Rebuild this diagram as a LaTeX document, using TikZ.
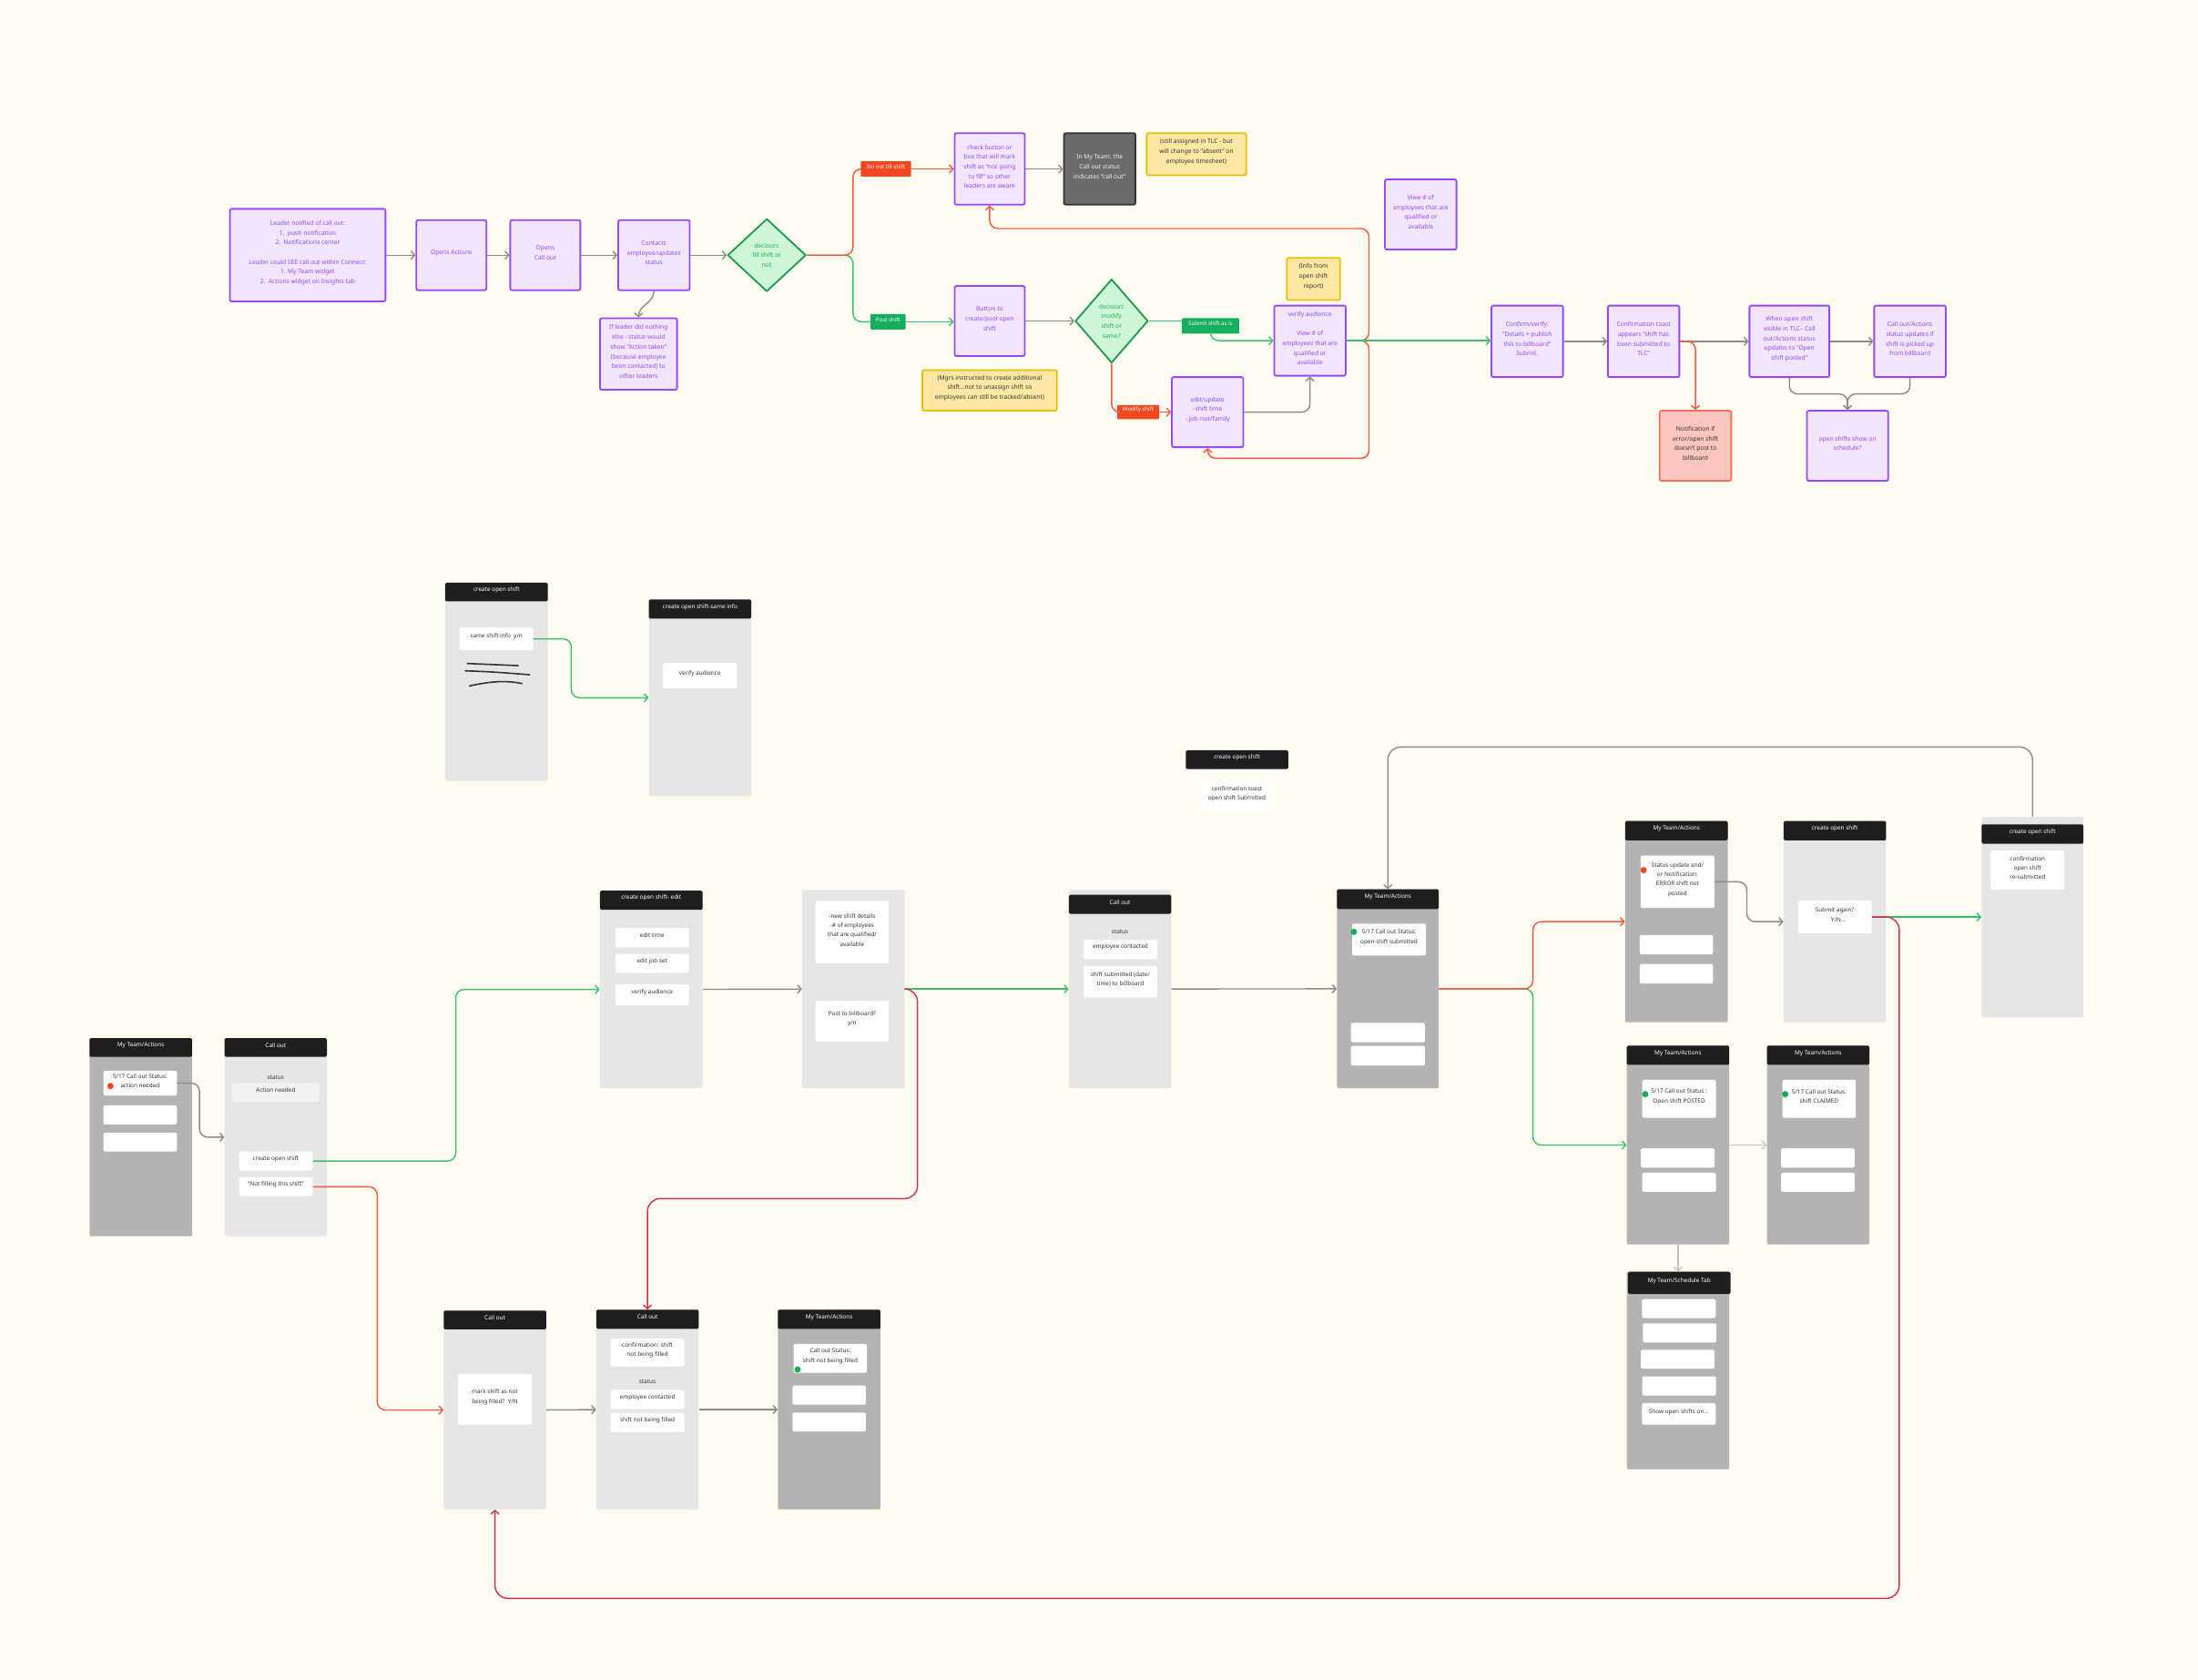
\documentclass[tikz,border=0pt]{standalone}
\usepackage{fontspec}
\setmainfont{Noto Sans}
\usepackage{tikz}
\usetikzlibrary{shapes.geometric,arrows.meta,fit}
\definecolor{BgCream}{HTML}{FFFDF1}
\definecolor{FlowPurple}{HTML}{9747FF}
\definecolor{FlowLilac}{HTML}{F1E5FF}
\definecolor{DecGreen}{HTML}{1B9A4B}
\definecolor{DecMint}{HTML}{CFF7D7}
\definecolor{TagGreen}{HTML}{14AE5C}
\definecolor{TagRed}{HTML}{F24822}
\definecolor{NoteYellow}{HTML}{FFE8A3}
\definecolor{NoteEdge}{HTML}{E8BE0A}
\definecolor{DarkBox}{HTML}{6B6B6B}
\definecolor{ErrFill}{HTML}{FCC6BE}
\definecolor{ErrEdge}{HTML}{F4725A}
\definecolor{LinkGray}{HTML}{8A8A8A}
\definecolor{LinkLight}{HTML}{C2C2C2}
\definecolor{LinkRed}{HTML}{F2583C}
\definecolor{LinkCrimson}{HTML}{D42E4E}
\definecolor{LinkGreen}{HTML}{3DC06B}
\definecolor{ScreenLight}{HTML}{E6E6E6}
\definecolor{ScreenDark}{HTML}{B3B3B3}
\definecolor{ScreenHead}{HTML}{1E1E1E}
\definecolor{ItemGray}{HTML}{F2F2F2}
\definecolor{InkGray}{HTML}{333333}
\newcommand\flowfont{\fontsize{6.7}{10.7}\selectfont}
\newcommand\scrfont{\fontsize{6.4}{10.3}\selectfont}
\newcommand\tagfont{\fontsize{6.1}{7}\selectfont}
\tikzset{
  flowbox/.style={rectangle,rounded corners=2pt,draw=FlowPurple,fill=FlowLilac,line width=1.8pt,inner sep=0pt,align=center,text=FlowPurple,font=\flowfont},
  notebox/.style={rectangle,rounded corners=2pt,draw=NoteEdge,fill=NoteYellow,line width=1.8pt,inner sep=0pt,align=center,text=InkGray,font=\flowfont},
  darkbox/.style={rectangle,rounded corners=2pt,draw=InkGray,fill=DarkBox,line width=1.8pt,inner sep=0pt,align=center,text=white!88!gray,font=\flowfont},
  errbox/.style={rectangle,rounded corners=2pt,draw=ErrEdge,fill=ErrFill,line width=1.8pt,inner sep=0pt,align=center,text=InkGray,font=\flowfont},
  decision/.style={diamond,draw=DecGreen,fill=DecMint,line width=1.8pt,inner sep=0pt,align=center,text=TagGreen,font=\flowfont},
  redtag/.style={rectangle,rounded corners=1pt,fill=TagRed,inner sep=0pt,text=white,font=\tagfont},
  greentag/.style={rectangle,rounded corners=1pt,fill=TagGreen,inner sep=0pt,text=white,font=\tagfont},
  screenlt/.style={rectangle,rounded corners=2pt,fill=ScreenLight,inner sep=0pt},
  screendk/.style={rectangle,rounded corners=2pt,fill=ScreenDark,inner sep=0pt},
  scrhead/.style={rectangle,rounded corners=1.5pt,fill=ScreenHead,inner sep=0pt,text=white,font=\scrfont},
  scritem/.style={rectangle,rounded corners=1.5pt,fill=white,inner sep=0pt,align=center,text=InkGray,font=\scrfont},
  scrgray/.style={scritem,fill=ItemGray},
  scrtext/.style={inner sep=0pt,text=InkGray,font=\scrfont},
  reddot/.style={circle,fill=TagRed,minimum size=7pt,inner sep=0pt},
  greendot/.style={circle,fill=TagGreen,minimum size=7pt,inner sep=0pt},
  grayarrow/.style={-{Straight Barb[length=4pt,width=9pt]},line width=1.4pt,draw=LinkGray,rounded corners=9pt},
  lightarrow/.style={grayarrow,draw=LinkLight},
  redarrow/.style={grayarrow,draw=LinkRed},
  crimsonarrow/.style={grayarrow,draw=LinkCrimson,rounded corners=14pt},
  greenarrow/.style={grayarrow,draw=LinkGreen},
  redline/.style={line width=1.4pt,draw=LinkRed,rounded corners=9pt},
  greenline/.style={line width=1.4pt,draw=LinkGreen,rounded corners=9pt},
  scribble/.style={line width=1.6pt,draw=InkGray,line cap=round},
}
\begin{document}
\begin{tikzpicture}[x=1.5396pt,y=-1.5396pt,line join=round]
  \fill[BgCream] (0,0) rectangle (1568,1198);
  \useasboundingbox (0,0) rectangle (1568,1198);

  \node[flowbox, fit={(164,149) (275,215)}] (leader) {Leader notified of call out:\\1.\ \ push notification\\2.\ \ Notifications center\\[10.7pt]Leader could SEE call out within Connect:\\1. My Team widget\\2.\ \ Actions widget on Insights tab};
  \node[flowbox, fit={(297,157) (347,207)}] (opact) {Opens Actions};
  \node[flowbox, fit={(364,157) (414,207)}] (opcall) {Opens\\Call out};
  \node[flowbox, fit={(441,157) (492,207)}] (contacts) {Contacts\\employee/updates\\status};
  \node[flowbox, fit={(428,227) (483,278)}] (ifnothing) {If leader did nothing\\else - status would\\show “Action taken”\\(because employee\\been contacted) to\\other leaders};
  \node[decision, minimum width=86pt, minimum height=80pt] (dec1) at (547,182) {decision:\\fill shift or\\not};
  \node[redtag, fit={(614,115) (650,126)}] (tagnofill) {Do not fill shift};
  \node[flowbox, fit={(681,95) (731,146)}] (checkbtn) {check button or\\box that will mark\\shift as “not going\\to fill” so other\\leaders are aware};
  \node[darkbox, fit={(759,95) (810,146)}] (myteamnote) {In My Team: the\\Call out status\\indicates “call out”};
  \node[notebox, fit={(818,95) (889,125)}] (stillnote) {(still assigned in TLC - but\\will change to “absent” on\\employee timesheet)};
  \node[greentag, fit={(621,224) (646,235)}] (tagpost) {Post shift};
  \node[flowbox, fit={(681,204) (731,254)}] (btnto) {Button to\\create/post open\\shift};
  \node[notebox, fit={(658,264) (754,293)}] (mgrsnote) {(Mgrs instructed to create additional\\shift...not to unassign shift so\\employees can still be tracked/absent)};
  \node[decision, minimum width=80pt, minimum height=92pt] (dec2) at (793,229) {decision:\\modify\\shift or\\same?};
  \node[greentag, fit={(843,227) (884,238)}] (tagsubmit) {Submit shift as is};
  \node[notebox, fit={(918,184) (956,214)}] (infonote) {(Info from\\open shift\\report)};
  \node[flowbox, fit={(909,218) (960,268)}] (verify) {verify audience\\[10.7pt]View \# of\\employees that are\\qualified or\\available};
  \node[flowbox, fit={(988,128) (1039,178)}] (viewnum) {View \# of\\employees that are\\qualified or\\available};
  \node[redtag, fit={(797,289) (827,299)}] (tagmodify) {Modify shift};
  \node[flowbox, fit={(836,269) (887,319)}] (editupd) {edit/update\\-shift time\\- job /set/family};
  \node[flowbox, fit={(1064,218) (1115,269)}] (confirm) {Confirm/verify:\\“Details + publish\\this to billboard”\\Submit.};
  \node[flowbox, fit={(1147,218) (1198,269)}] (ctoast) {Confirmation toast\\appears “shift has\\been submitted to\\TLC”};
  \node[flowbox, fit={(1248,218) (1305,269)}] (whenopen) {When open shift\\visible in TLC-- Call\\out/Actions status\\updates to “Open\\shift posted”};
  \node[flowbox, fit={(1337,218) (1388,269)}] (coact) {Call out/Actions\\status updates if\\shift is picked up\\from billboard};
  \node[errbox, fit={(1184,293) (1235,343)}] (notif) {Notification if\\error/open shift\\doesn't post to\\billboard};
  \node[flowbox, fit={(1289,293) (1347,343)}] (openshow) {open shifts show on\\schedule?};
  \coordinate (merge) at (1318,281);

  \draw[grayarrow] (leader) -- (opact);
  \draw[grayarrow] (opact) -- (opcall);
  \draw[grayarrow] (opcall) -- (contacts);
  \draw[grayarrow] (contacts) -- (dec1);
  \draw[grayarrow] (contacts.south) to[out=-90,in=90] (ifnothing.north);
  \draw[greenline] (dec1.east) -- ++(33,0) |- (tagpost.west);
  \draw[redline] (dec1.east) -- ++(33,0) |- (tagnofill.west);
  \draw[redarrow] (tagnofill.east) -- (checkbtn.west |- tagnofill.east);
  \draw[greenarrow] (tagpost.east) -- (btnto.west |- tagpost.east);
  \draw[grayarrow] (checkbtn.east) -- (myteamnote.west |- checkbtn.east);
  \draw[grayarrow] (btnto) -- (dec2);
  \draw[greenline] (dec2.east) -- (tagsubmit.west |- dec2.east);
  \draw[greenarrow] (tagsubmit.south) |- (verify.west);
  \draw[redline] (dec2.south) |- (tagmodify.west);
  \draw[redarrow] (tagmodify.east) -- (editupd.west |- tagmodify.east);
  \draw[grayarrow] (editupd.east) -| (verify.south);
  \draw[redarrow] (verify.east) -| ++(16,-80) -| (checkbtn.south);
  \draw[redarrow] (verify.east) -| ++(16,84) -| (editupd.south);
  \draw[greenarrow] (verify.east) -- (confirm.west |- verify.east);
  \draw[grayarrow] (confirm) -- (ctoast);
  \draw[grayarrow] (ctoast) -- (whenopen);
  \draw[redarrow] (ctoast.east) -| (notif.north);
  \draw[grayarrow] (whenopen) -- (coact);
  \draw[grayarrow] (whenopen.south) |- (merge) -- (openshow.north);
  \draw[grayarrow] (coact.south) |- (merge) -- (openshow.north);

  \node[screenlt, fit={(317.6,415.7) (390.8,557)}] (scrA) {};
  \node[scrhead, fit={(317.6,415.7) (390.8,429)}] (hdA) {create open shift};
  \node[scritem, fit={(327.8,447.6) (380.4,463.8)}] (itsame) {same shift info\ \ y/n};
  \draw[scribble] (333.4,473.3) -- (369.6,474.8);
  \draw[scribble] (331.9,478.5) .. controls (352,479.3) .. (377.8,481.3);
  \draw[scribble] (335,489.3) .. controls (350,486) and (361,485.2) .. (372.4,487.6);
  \node[screenlt, fit={(462.9,427.6) (535.9,567.9)}] (scrB) {};
  \node[scrhead, fit={(462.9,427.6) (535.9,441.2)}] (hdB) {create open shift-same info};
  \node[scritem, fit={(473,472.9) (525.7,491)}] (itverB) {verify audience};
  \draw[greenarrow] (itsame.east) -- ++(27,0) |- (scrB.west);

  \node[scrhead, fit={(845.9,535.2) (919,548.6)}] (hdtoast) {create open shift};
  \node[scritem, fit={(856,558) (908.7,578)}] (ittoast) {confirmation toast\\open shift Submitted};

  \node[screendk, fit={(63.9,740.5) (137,881.9)}] (scrC) {};
  \node[scrhead, fit={(63.9,740.5) (137,753.9)}] (hdC) {My Team/Actions};
  \node[scritem, fit={(73.8,763.8) (126.2,781.4)}] (itC1) {5/17 Call out Status:\\action needed};
  \node[reddot] (dotC) at (78.8,774.7) {};
  \node[scritem, fit={(73.8,788.5) (126.2,802.1)}] (itC2) {};
  \node[scritem, fit={(73.8,808) (126.2,821.4)}] (itC3) {};

  \node[screenlt, fit={(160.2,740.5) (233.2,881.9)}] (scrD) {};
  \node[scrhead, fit={(160.2,740.5) (233.2,753.9)}] (hdD) {Call out};
  \node[scrtext] (stD) at (196.6,768.6) {status};
  \node[scrgray, fit={(165.4,772.5) (228,786)}] (itAct) {Action needed};
  \node[scritem, fit={(170.6,821.4) (223,835)}] (itcreate) {create open shift};
  \node[scritem, fit={(170.6,839.8) (223,853.3)}] (itnotfill) {“Not filling this shift”};

  \node[screenlt, fit={(428,635.4) (501.2,776.2)}] (scrE) {};
  \node[scrhead, fit={(428,635.4) (501.2,649)}] (hdE) {create open shift- edit};
  \node[scritem, fit={(439,662) (491.5,675.7)}] (itedtime) {edit time};
  \node[scritem, fit={(439,680.5) (491.5,694)}] (itedjob) {edit job set};
  \node[scritem, fit={(439,702) (491.5,717)}] (itverE) {verify audience};

  \node[screenlt, fit={(572.2,634.8) (645.4,776.2)}] (scrF) {};
  \node[scritem, fit={(581.8,642.6) (634,687.2)}] (itdetails) {-new shift details\\-\# of employees\\that are qualified/\\available};
  \node[scritem, fit={(581.8,713.8) (634,743)}] (itpost) {Post to billboard?\\y/n};

  \node[screenlt, fit={(762.5,634.8) (835.5,776.2)}] (scrG) {};
  \node[scrhead, fit={(762.5,638.3) (835.5,651.9)}] (hdG) {Call out};
  \node[scrtext] (stG) at (799,665) {status};
  \node[scritem, fit={(773,670.3) (825.4,684.2)}] (itempG) {employee contacted};
  \node[scritem, fit={(773,689) (825.4,711.7)}] (itsubG) {shift submitted (date/\\time) to billboard};

  \node[screendk, fit={(953.7,634.4) (1026.4,776.2)}] (scrH) {};
  \node[scrhead, fit={(953.7,634.4) (1026.4,648.4)}] (hdH) {My Team/Actions};
  \node[scritem, fit={(964.6,658.8) (1017.2,681.6)}] (itH1) {5/17 Call out Status:\\open shift submitted};
  \node[greendot] (dotH) at (965.8,664.7) {};
  \node[scritem, fit={(963.7,729.6) (1016.5,743.5)}] (itH2) {};
  \node[scritem, fit={(963.7,746) (1016.5,760)}] (itH3) {};

  \node[screendk, fit={(1159.3,585.7) (1232.6,729.2)}] (scrI) {};
  \node[scrhead, fit={(1159.3,585.7) (1232.6,599.4)}] (hdI) {My Team/Actions};
  \node[scritem, fit={(1170.4,610.3) (1223,647.7)}] (itI1) {Status update and/\\or Notification:\\ERROR shift not\\posted};
  \node[reddot] (dotI) at (1172.5,620.7) {};
  \node[scritem, fit={(1169.7,667) (1222.1,680.8)}] (itI2) {};
  \node[scritem, fit={(1169.7,687.6) (1222.1,701.5)}] (itI3) {};

  \node[screenlt, fit={(1272.4,585.7) (1345.5,729.2)}] (scrJ) {};
  \node[scrhead, fit={(1272.4,585.7) (1345.5,599.4)}] (hdJ) {create open shift};
  \node[scritem, fit={(1282.7,642.4) (1335.2,665.9)}] (itJ) {Submit again?\\\hspace*{8pt}Y/N...};

  \node[screenlt, fit={(1413.6,582.5) (1486.3,725.8)}] (scrN) {};
  \node[scrhead, fit={(1413.6,588) (1486.3,601.8)}] (hdN) {create open shift};
  \node[scritem, fit={(1420.2,606.8) (1472.6,634.5)}] (itN) {confirmation\\open shift\\re-submitted};

  \node[screendk, fit={(1160.5,745.9) (1233.6,887.7)}] (scrK) {};
  \node[scrhead, fit={(1160.5,745.9) (1233.6,759.5)}] (hdK) {My Team/Actions};
  \node[scritem, fit={(1171.5,770.3) (1224.1,797.4)}] (itK1) {5/17 Call out Status :\\Open shift POSTED};
  \node[greendot] (dotK) at (1173.7,780.5) {};
  \node[scritem, fit={(1170.6,819.2) (1223.2,832.9)}] (itK2) {};
  \node[scritem, fit={(1171.5,836.6) (1224.1,850.2)}] (itK3) {};

  \node[screendk, fit={(1260.5,745.9) (1333.5,887.7)}] (scrKc) {};
  \node[scrhead, fit={(1260.5,745.9) (1333.5,759.5)}] (hdKc) {My Team/Actions};
  \node[scritem, fit={(1271.5,770.3) (1323.9,797.4)}] (itKc1) {5/17 Call out Status:\\shift CLAIMED};
  \node[greendot] (dotKc) at (1273.5,780.5) {};
  \node[scritem, fit={(1270.5,819.2) (1323,832.9)}] (itKc2) {};
  \node[scritem, fit={(1270.5,836.6) (1323,850.2)}] (itKc3) {};

  \node[screendk, fit={(1160.5,907.2) (1233.6,1048.1)}] (scrS) {};
  \node[scrhead, fit={(1161.3,907.2) (1234.5,923)}] (hdS) {My Team/Schedule Tab};
  \node[scritem, fit={(1171.3,926.7) (1223.9,940.3)}] (itS1) {};
  \node[scritem, fit={(1172,944) (1224.5,957.6)}] (itS2) {};
  \node[scritem, fit={(1170.5,962.8) (1223,976.4)}] (itS3) {};
  \node[scritem, fit={(1171.5,981.8) (1224.1,995.5)}] (itS4) {};
  \node[scritem, fit={(1171.3,1000.9) (1223.9,1016.3)}] (itS5) {Show open shifts on...};

  \node[screenlt, fit={(316.5,934.9) (389.7,1076.7)}] (scrL) {};
  \node[scrhead, fit={(316.5,934.9) (389.7,948.3)}] (hdL) {Call out};
  \node[scritem, fit={(326.7,980.1) (379.3,1016.3)}] (itmark) {mark shift as not\\being filled?\ \ Y/N};

  \node[screenlt, fit={(425.4,934.2) (498.4,1076.7)}] (scrM) {};
  \node[scrhead, fit={(425.4,934.2) (498.4,947.9)}] (hdM) {Call out};
  \node[scritem, fit={(435.6,954.8) (488.2,974.7)}] (itconfM) {confirmation: shift\\not being filled};
  \node[scrtext] (stM) at (461.8,985.5) {status};
  \node[scritem, fit={(435.6,991.4) (488.2,1005)}] (itempM) {employee contacted};
  \node[scritem, fit={(435.6,1007.8) (488.2,1021.5)}] (itnotM) {shift not being filled};

  \node[screendk, fit={(554.9,934.2) (628.1,1076.7)}] (scrP) {};
  \node[scrhead, fit={(554.9,934.2) (628.1,947.9)}] (hdP) {My Team/Actions};
  \node[scritem, fit={(566.2,958.7) (618.5,979.3)}] (itP1) {Call out Status:\\shift not being filled};
  \node[greendot] (dotP) at (569,976.9) {};
  \node[scritem, fit={(565.3,988.4) (617.7,1002)}] (itP2) {};
  \node[scritem, fit={(565.3,1007.6) (617.7,1021.2)}] (itP3) {};

  \draw[grayarrow] (itC1.east) -- ++(16,0) |- (scrD.west);
  \draw[greenarrow] (itcreate.east) -- ++(102,0) |- (scrE.west);
  \draw[redarrow] (itnotfill.east) -- ++(46,0) |- (scrL.west);
  \draw[grayarrow] (scrE) -- (scrF);
  \draw[greenarrow] (scrF) -- (scrG);
  \draw[crimsonarrow] (scrF.east) -- ++(9,0) -- ++(0,149.5) -| (scrM.north);
  \draw[grayarrow] (scrG) -- (scrH);
  \draw[greenarrow] (scrH.east) -- ++(67,0) |- (scrK.west);
  \draw[redarrow] (scrH.east) -- ++(67,0) |- (scrI.west);
  \draw[grayarrow] (itI1.east) -- ++(23,0) |- (scrJ.west);
  \draw[greenarrow] (itJ.east) -- (scrN.west |- itJ.east);
  \draw[crimsonarrow] (itJ.east) -- ++(19.5,0) -- ++(0,486) -| (scrL.south);
  \draw[grayarrow, rounded corners=14pt] (scrN.north) -- ++(0,-49.5) -| (scrH.north);
  \draw[lightarrow] (scrK) -- (scrKc);
  \draw[lightarrow] (scrK) -- (scrS);
  \draw[grayarrow] (scrL) -- (scrM);
  \draw[grayarrow] (scrM) -- (scrP);
\end{tikzpicture}
\end{document}
